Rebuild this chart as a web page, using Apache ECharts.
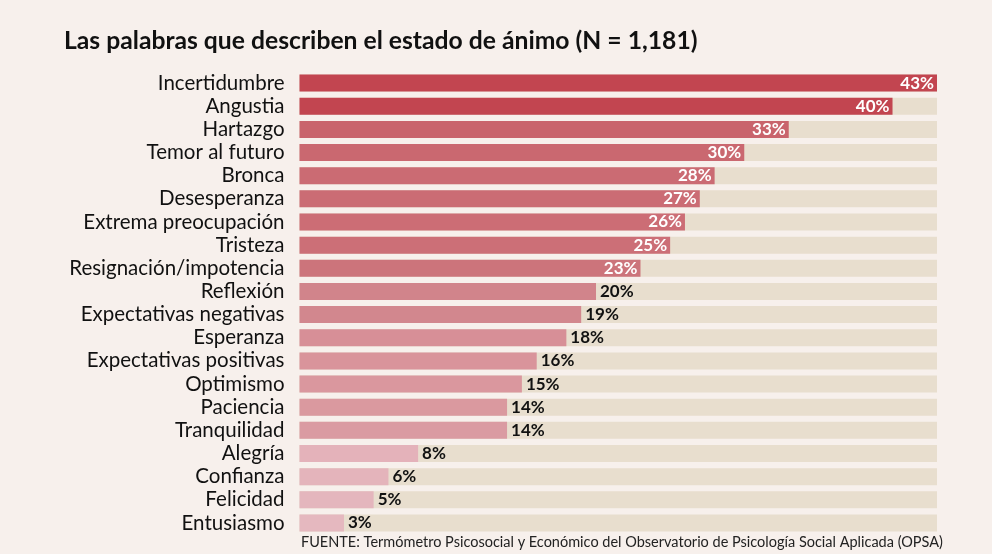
<!DOCTYPE html>
<html>
<head>
<meta charset="utf-8">
<script src="https://cdn.jsdelivr.net/npm/echarts@6/dist/echarts.min.js"></script>
<style>
html,body{margin:0;padding:0;background:#f7f0ec;}
#c{width:992px;height:554px;}
</style>
</head>
<body>
<div id="c"></div>
<script>
const categories = ["Incertidumbre","Angustia","Hartazgo","Temor al futuro","Bronca","Desesperanza","Extrema preocupación","Tristeza","Resignación/impotencia","Reflexión","Expectativas negativas","Esperanza","Expectativas positivas","Optimismo","Paciencia","Tranquilidad","Alegría","Confianza","Felicidad","Entusiasmo"];
const values = [43,40,33,30,28,27,26,25,23,20,19,18,16,15,14,14,8,6,5,3];
const palette = ["#c24550","#c24550","#c9646c","#ca6870","#cb6b73","#cb6c74","#cc6d75","#cc6f77","#cc747b","#d1848b","#d2878e","#d78f97","#d9949b","#da979e","#da999f","#da9ba2","#e4b2ba","#e4b4bb","#e4b6bd","#e5b8bf"];

const chart = echarts.init(document.getElementById('c'));
chart.setOption({
  backgroundColor: '#f7f0ec',
  animation: false,
  title: {
    text: 'Las palabras que describen el estado de ánimo (N = 1,181)',
    left: 59, top: 24,
    textStyle: {fontFamily: 'Lato', fontWeight: 'bold', fontSize: 24.7, color: '#111'}
  },
  graphic: [{
    type: 'text', left: 301, top: 535,
    style: {text: 'FUENTE: Termómetro Psicosocial y Económico del Observatorio de Psicología Social Aplicada (OPSA)', font: '14.5px Lato', fill: '#222'}
  }],
  grid: {left: 299.5, right: 55, top: 71.5, bottom: 19.5},
  xAxis: {type: 'value', min: 0, max: 43, show: false},
  yAxis: {
    type: 'category', data: categories, inverse: true,
    axisLine: {show: false}, axisTick: {show: false},
    axisLabel: {interval: 0, fontFamily: 'Lato', fontSize: 20.5, color: '#111', margin: 15}
  },
  series: [{
    type: 'bar', barWidth: 17,
    showBackground: true,
    backgroundStyle: {color: '#e8dece'},
    data: values.map((v, i) => ({
      value: v,
      itemStyle: {color: palette[i]},
      label: v >= 23
        ? {show: true, position: 'insideRight', distance: 3, color: '#fff'}
        : {show: true, position: 'right', distance: 4, color: '#111'}
    })),
    label: {fontFamily: 'Lato', fontWeight: 'bold', fontSize: 17, formatter: '{c}%'}
  }]
});
</script>
</body>
</html>
